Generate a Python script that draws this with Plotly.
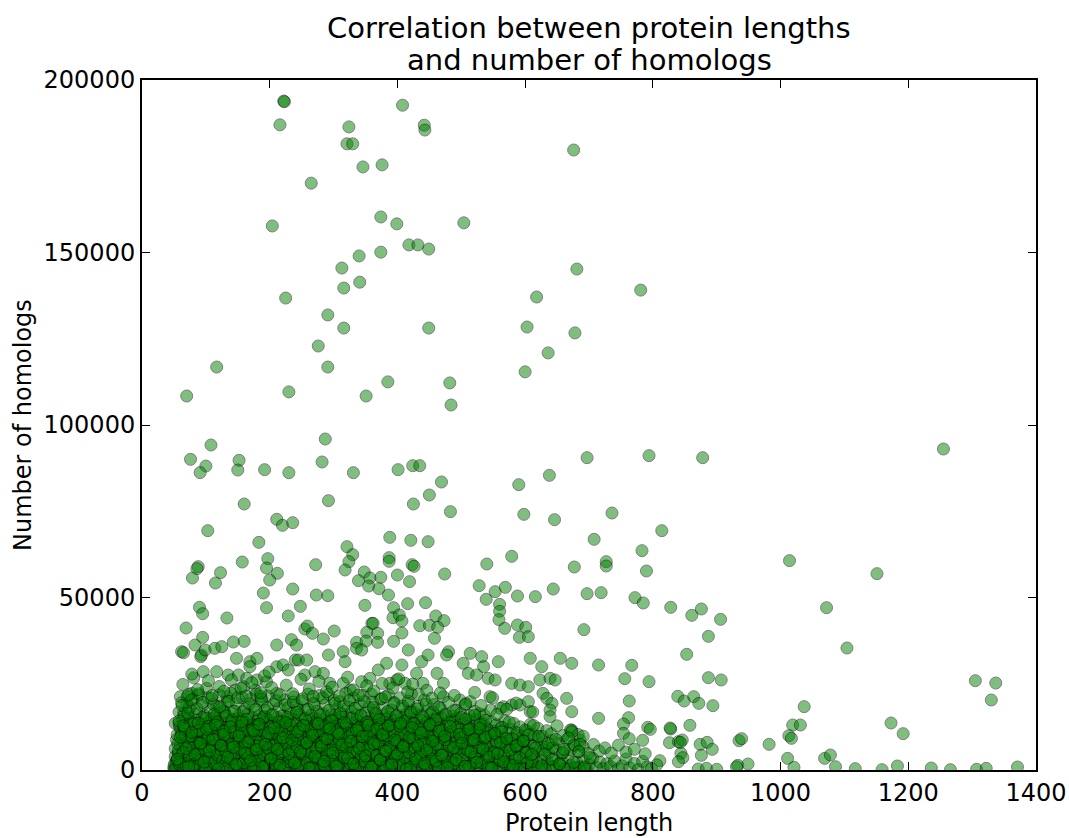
import plotly.graph_objects as go

# ---------------- data ----------------
# high outliers (homologs > 100000)
upper_len = [222, 223, 216, 324, 321, 330, 408, 442, 443, 676,
             346, 376, 265, 204, 374, 399, 504, 418, 432, 449,
             374, 340, 313, 341, 316, 225, 618, 681, 291, 316,
             449, 603, 678, 636, 276, 291, 117, 600, 385, 482,
             484, 70, 230, 351, 781]
upper_hom = [193900, 193700, 187000, 186400, 181500, 181500, 192700, 186900, 185500, 179700,
             174800, 175400, 170100, 157700, 160300, 158300, 158600, 152200, 152200, 151000,
             150100, 149000, 145500, 141400, 139700, 136800, 137100, 145200, 131900, 128100,
             128100, 128400, 126700, 120900, 122900, 116800, 116800, 115400, 112500, 112200,
             105800, 108400, 109600, 108400, 139100]

# mid range points (roughly 37000 - 100000)
mid_len = [76, 108, 100, 91, 152, 150, 192, 230, 287, 282,
           331, 401, 424, 435, 469, 450, 425, 483, 292, 160,
           103, 211, 220, 236, 183, 157, 88, 86, 79, 123,
           115, 197, 195, 212, 200, 190, 195, 236, 272, 321,
           330, 324, 318, 388, 387, 387, 421, 448, 423, 426,
           474, 348, 339, 357, 374, 355, 371, 400, 419, 386,
           416, 444, 273, 291, 248, 229, 349, 394, 393, 403,
           407, 360, 362, 528, 540, 579, 553, 569, 539, 588,
           616, 644, 590, 638, 598, 646, 677, 697, 697, 692,
           560, 560, 559, 568, 588, 601, 591, 605, 90, 95,
           69, 133, 95, 255, 259, 267, 284, 301, 352, 369,
           407, 435, 450, 460, 473, 463, 458, 234, 160, 143,
           336, 369, 351, 394]
mid_hom = [90050, 94200, 88100, 86200, 89760, 86950, 87050, 86180, 95940, 89280,
           86180, 87050, 88210, 88210, 83480, 79710, 77100, 74880, 78070, 77100,
           69370, 72660, 70920, 71690, 65990, 60290, 58940, 58360, 55650, 57200,
           54200, 61260, 58550, 57000, 55070, 51300, 47050, 52460, 59520, 64740,
           62420, 60390, 57970, 67440, 61550, 60490, 66570, 66180, 59520, 59030,
           56810, 57390, 54880, 55650, 55850, 53330, 52560, 56520, 54590, 50720,
           48210, 48500, 50720, 50530, 47440, 44640, 47730, 47050, 44150, 44930,
           43190, 42510, 42510, 53430, 59710, 61930, 51690, 52950, 49470, 50430,
           50240, 52460, 82710, 85410, 74100, 72560, 58840, 90530, 51110, 40680,
           48020, 45990, 43580, 41060, 42030, 41350, 38450, 38650, 47150, 45310,
           41160, 44060, 38450, 40870, 41740, 39610, 37970, 40290, 39900, 39610,
           39710, 41830, 41930, 44640, 43290, 41350, 38160, 37780, 37290, 37100,
           37000, 37000, 37390, 37290]

# long proteins (right part of the chart)
long_len = [794, 878, 1255, 736, 814, 708, 783, 727, 727, 790,
            1014, 1151, 719, 772, 785, 828, 861, 876, 906, 1072,
            887, 853, 1104, 767, 756, 794, 887, 907, 763, 839,
            849, 864, 872, 894, 1305, 1337, 1330, 1037, 762, 754,
            754, 763, 792, 796, 784, 828, 858, 826, 840, 846,
            874, 885, 893, 844, 847, 840, 876, 811, 935, 939,
            933, 949, 982, 1019, 1031, 1013, 1017, 1011, 1021, 1069,
            1078, 1086, 1117, 1159, 1173, 1192, 1183, 1236, 1266, 1307,
            1322, 1371, 871, 884, 900, 931, 827, 843]
long_hom = [91110, 90530, 93040, 74490, 69370, 66860, 63570, 60390, 59130, 57680,
            60680, 56910, 51400, 49950, 48410, 47150, 44830, 46670, 43670, 47050,
            38740, 33530, 35360, 30340, 26470, 25600, 26760, 26090, 20000, 21350,
            20000, 21250, 19320, 18650, 25890, 25210, 20290, 18360, 15170, 13330,
            10630, 9080, 12370, 11790, 8600, 11880, 12950, 7920, 8210, 8690,
            7440, 8020, 5990, 4830, 3580, 2410, 4250, 2700, 8500, 9080,
            1350, 1740, 7440, 13040, 13040, 9950, 9180, 3380, 770, 3380,
            4350, 960, 390, 100, 13620, 10530, 1160, 580, 100, 190,
            480, 870, 300, 500, 200, 900, 12170, 8000]

# upper fringe of the dense cloud (about 13000 - 37000)
fringe_len = [62, 65, 83, 93, 92, 99, 114, 125, 96, 117,
              135, 148, 169, 180, 169, 151, 164, 180, 211, 211,
              221, 229, 240, 101, 78, 88, 60, 70, 117, 133,
              146, 159, 177, 195, 52, 65, 242, 245, 258, 292,
              315, 318, 336, 344, 383, 407, 417, 438, 448, 480,
              255, 271, 284, 294, 315, 326, 344, 357, 370, 388,
              399, 412, 430, 440, 462, 472, 477, 514, 532, 503,
              535, 558, 608, 626, 655, 673, 511, 524, 542, 553,
              579, 592, 605, 623, 639, 647, 472, 545, 566, 579,
              592, 605, 628, 634, 642, 665, 673, 639, 639, 608,
              561, 514, 498, 715, 715, 673, 686]
fringe_hom = [34300, 34000, 36230, 33330, 32850, 34780, 35270, 35750, 28500, 28500,
              27540, 32370, 31400, 32370, 29950, 27540, 26570, 26090, 36230, 29950,
              30440, 28990, 31880, 23670, 22230, 21740, 21250, 19330, 18350, 21250,
              23190, 24150, 23190, 25600, 13530, 16420, 36230, 31880, 31880, 33330,
              34300, 31400, 35270, 34780, 30930, 30440, 34780, 31400, 33330, 34300,
              27540, 28500, 28020, 25130, 25130, 23190, 25600, 26570, 28990, 25130,
              26090, 25130, 28020, 25130, 28020, 25130, 33330, 33810, 32850, 30920,
              29950, 31400, 32370, 29950, 32370, 30920, 28020, 27540, 26570, 26090,
              25120, 24640, 24150, 26090, 26570, 26090, 21250, 21250, 18360, 18840,
              18840, 19810, 22220, 20770, 19320, 20770, 16910, 17390, 15460, 16910,
              17870, 19810, 20290, 30430, 14970, 11590, 8700]

# dense cloud, lowest band (0 - 4500)
low_len = [50, 51, 52, 53, 54, 55, 56, 58, 60, 61,
           63, 66, 68, 70, 71, 74, 76, 79, 81, 83,
           85, 88, 90, 93, 95, 97, 99, 102, 104, 107,
           109, 111, 114, 116, 119, 121, 124, 126, 128, 131,
           133, 136, 138, 141, 143, 146, 148, 150, 153, 155,
           158, 160, 163, 165, 168, 170, 173, 175, 178, 180,
           183, 185, 188, 190, 193, 196, 198, 201, 203, 206,
           208, 211, 213, 216, 219, 221, 224, 226, 229, 232,
           234, 237, 239, 242, 245, 247, 250, 252, 255, 258,
           260, 263, 265, 268, 271, 273, 276, 279, 281, 284,
           287, 289, 292, 295, 297, 300, 303, 305, 308, 311,
           313, 316, 319, 321, 324, 327, 330, 332, 335, 338,
           341, 343, 346, 349, 352, 355, 357, 360, 363, 366,
           369, 372, 374, 377, 380, 383, 386, 389, 392, 395,
           398, 401, 404, 407, 410, 413, 416, 419, 422, 425,
           428, 431, 434, 437, 440, 443, 446, 449, 452, 456,
           459, 462, 465, 468, 471, 475, 478, 481, 485, 488,
           491, 495, 498, 501, 505, 508, 512, 515, 519, 522,
           526, 529, 533, 536, 540, 544, 547, 551, 555, 558,
           562, 566, 570, 573, 577, 581, 585, 589, 593, 597,
           601, 605, 609, 613, 617, 622, 626, 630, 635, 639,
           644, 648, 653, 657, 662, 667, 671, 676, 681, 686,
           691, 696, 701, 706, 712, 717, 722, 728, 734, 740,
           746, 752, 758, 764, 771, 777, 784, 791, 798, 806,
           50, 52, 59, 65, 72, 78, 84, 91, 98, 105,
           112, 118, 125, 132, 139, 145, 152, 159, 166, 172,
           179, 186, 194, 200, 207, 214, 222, 229, 236, 244,
           251, 257, 264, 272, 279, 286, 294, 301, 309, 317,
           325, 333, 340, 348, 356, 364, 371, 379, 387, 396,
           405, 413, 421, 430, 439, 447, 456, 465, 474, 483,
           493, 502, 511, 520, 530, 540, 549, 559, 569, 579,
           589, 600, 611, 621, 632, 643, 655, 667, 679, 692]
low_hom = [300, 1800, 3900, 800, 2600, 100, 3300, 1400, 500, 4200,
           2200, 700, 3600, 1500, 200, 2900, 1100, 4100, 600, 2400,
           3500, 250, 1700, 2800, 900, 4300, 150, 2000, 3200, 1200,
           400, 3800, 2500, 700, 1600, 3000, 100, 4000, 1300, 2300,
           3400, 600, 1900, 2700, 200, 3900, 1000, 2600, 500, 3600,
           1400, 2900, 300, 4200, 1800, 800, 3200, 2100, 150, 3700,
           1100, 2500, 600, 4000, 1700, 3000, 250, 2300, 3500, 900,
           1900, 4100, 400, 2800, 1300, 3400, 700, 2000, 3900, 100,
           2600, 1200, 3700, 500, 2200, 4200, 1500, 300, 3100, 1900,
           800, 3500, 2400, 150, 4000, 1600, 2900, 600, 3300, 2100,
           1000, 3800, 400, 2700, 1800, 4300, 1200, 200, 3000, 2300,
           3600, 700, 1500, 4100, 2500, 100, 3200, 1900, 900, 2800,
           400, 3900, 1400, 2200, 3400, 600, 2700, 4200, 1100, 200,
           3000, 1700, 2400, 500, 3700, 1300, 4000, 800, 2100, 3300,
           150, 2600, 1000, 3800, 1900, 300, 3100, 2300, 4300, 700,
           1600, 3400, 2000, 400, 2900, 1200, 3900, 100, 2500, 3600,
           900, 2200, 4100, 1400, 300, 3200, 1800, 2700, 600, 3800,
           1300, 2400, 200, 3500, 1000, 2900, 4200, 500, 2000, 3100,
           800, 3700, 1600, 2500, 100, 3300, 1200, 4000, 2200, 400,
           2800, 1500, 3600, 700, 2300, 300, 3900, 1100, 2000, 3200,
           500, 2600, 1400, 3500, 200, 1900, 3000, 800, 2400, 1200,
           3300, 600, 1700, 2700, 300, 3800, 1300, 500, 2200, 900,
           2900, 200, 1500, 3400, 700, 2300, 400, 1800, 1000, 2600,
           300, 1200, 3200, 600, 1900, 100, 2500, 900, 400, 1500,
           1000, 200, 1600, 400, 2100, 800, 100, 1300, 600, 2400,
           300, 1700, 900, 100, 2200, 1200, 600, 1900, 200, 1400,
           700, 2300, 100, 1500, 500, 1800, 200, 1100, 2500, 400,
           1600, 100, 900, 2000, 300, 1300, 700, 2400, 500, 1100,
           200, 1800, 600, 1200, 100, 2100, 900, 300, 1700, 500,
           1400, 100, 2200, 700, 1100, 300, 1900, 600, 1300, 200,
           1600, 500, 900, 2000, 200, 1200, 700, 100, 1800, 400,
           1100, 300, 1500, 600, 100, 900, 1300, 200, 700, 400]

# dense cloud, second band (4500 - 9500)
band2_len = [52, 54, 57, 60, 63, 66, 69, 72, 75, 78,
             81, 84, 87, 90, 93, 96, 99, 102, 105, 108,
             111, 114, 117, 120, 123, 126, 129, 132, 135, 138,
             141, 144, 147, 150, 153, 156, 159, 162, 165, 168,
             171, 174, 177, 180, 183, 186, 189, 192, 195, 198,
             201, 204, 207, 210, 213, 216, 219, 222, 225, 228,
             231, 234, 237, 240, 243, 246, 249, 252, 255, 258,
             261, 264, 267, 270, 273, 276, 279, 282, 285, 288,
             291, 294, 297, 300, 303, 306, 309, 312, 315, 318,
             321, 324, 327, 330, 333, 336, 339, 342, 345, 348,
             351, 354, 357, 360, 363, 366, 369, 372, 375, 378,
             381, 384, 387, 390, 393, 396, 399, 402, 405, 408,
             411, 414, 417, 420, 423, 427, 430, 433, 436, 440,
             443, 446, 450, 453, 456, 460, 463, 467, 470, 474,
             477, 481, 484, 488, 492, 495, 499, 503, 506, 510,
             514, 518, 522, 526, 530, 534, 538, 542, 546, 550,
             554, 558, 563, 567, 571, 576, 580, 585, 589, 594,
             598, 603, 608, 612, 617, 622, 627, 632, 637, 642,
             648, 653, 659, 665, 671, 677, 684, 691, 699, 707,
             716, 725, 735, 746, 758, 771, 788, 57, 66, 75,
             84, 93, 102, 111, 120, 129, 138, 147, 156, 165,
             174, 183, 192, 201, 210, 219, 228, 237, 246, 255,
             264, 273, 282, 291, 300, 309, 318, 327, 336, 345,
             354, 363, 372, 381, 390, 399, 408, 417, 426, 436,
             446, 456, 466, 476, 486, 496, 507, 518, 529, 540,
             551, 563, 575, 588, 601, 614, 628, 643, 659, 676]
band2_hom = [6200, 8800, 4800, 7400, 9300, 5500, 8100, 6700, 4600, 9000,
             7100, 5200, 8600, 6000, 9400, 7800, 4900, 6500, 8300, 5700,
             9100, 6900, 4700, 8000, 5900, 7500, 9200, 5100, 6600, 8700,
             4800, 7300, 9000, 6100, 8400, 5400, 7900, 4600, 6800, 9300,
             5800, 8200, 7000, 4900, 9100, 6400, 5300, 8700, 7600, 6000,
             9400, 5000, 7200, 8500, 6300, 4700, 8000, 6900, 5500, 9000,
             7400, 5900, 8800, 4800, 6600, 9200, 5600, 7800, 6100, 8300,
             5000, 7100, 9300, 6400, 8600, 5300, 7700, 4600, 6900, 9000,
             8100, 5700, 7300, 9100, 4900, 6700, 8400, 6000, 5200, 7900,
             9400, 6200, 4800, 8800, 7000, 5500, 9000, 6500, 8200, 4700,
             7600, 9200, 5800, 6900, 8500, 5100, 7300, 9400, 6100, 8000,
             5400, 7800, 6600, 9100, 4900, 8300, 7100, 5700, 9300, 6300,
             8700, 5000, 7400, 6000, 9000, 5600, 8100, 6800, 4800, 7700,
             9200, 6400, 5200, 8400, 7000, 9400, 5800, 7600, 6200, 8800,
             4900, 7300, 8900, 6100, 5400, 8000, 6700, 9300, 5000, 7500,
             8500, 6300, 4800, 7900, 9100, 5700, 7000, 8600, 6000, 5200,
             7700, 9300, 6500, 5100, 8300, 7200, 4900, 6800, 9000, 5900,
             8100, 6200, 7400, 4800, 9200, 5600, 7900, 6600, 5000, 8500,
             6000, 7600, 4900, 8800, 5800, 7100, 5300, 6700, 4800, 7400,
             5500, 6400, 4900, 7200, 5200, 6000, 4700, 5600, 7900, 4900,
             8400, 6300, 5200, 7600, 9000, 5500, 7000, 8900, 6600, 5100,
             7700, 6000, 8600, 4800, 6400, 9200, 7400, 5300, 7900, 6200,
             8500, 4900, 7100, 5800, 9100, 6700, 4800, 7400, 5600, 8800,
             6300, 5000, 7700, 9200, 6000, 8000, 5400, 6900, 8300, 5200,
             7300, 4900, 6500, 8700, 5800, 7600, 6200, 8000, 5600, 6900,
             4800, 7500, 8800, 6100, 5300, 7100, 5900, 6500, 5100, 7300]

# dense cloud, third band (9500 - 15500)
band3_len = [55, 58, 61, 64, 67, 70, 73, 76, 79, 82,
             85, 88, 91, 94, 97, 100, 103, 106, 109, 112,
             115, 118, 121, 124, 127, 130, 133, 136, 139, 142,
             145, 148, 151, 154, 157, 160, 163, 166, 169, 172,
             175, 178, 181, 184, 187, 190, 193, 196, 199, 202,
             205, 208, 211, 214, 217, 220, 223, 226, 229, 232,
             235, 238, 241, 244, 247, 250, 253, 256, 259, 262,
             265, 268, 271, 274, 277, 280, 283, 286, 289, 292,
             295, 298, 301, 304, 307, 310, 313, 316, 319, 322,
             325, 328, 331, 334, 337, 340, 343, 346, 349, 352,
             355, 358, 361, 364, 367, 370, 373, 376, 379, 382,
             385, 388, 391, 394, 397, 400, 403, 406, 409, 412,
             415, 418, 421, 424, 427, 430, 433, 436, 439, 442,
             446, 449, 452, 456, 459, 462, 466, 469, 472, 476,
             479, 483, 486, 490, 493, 497, 500, 504, 508, 511,
             515, 519, 523, 527, 531, 535, 539, 543, 547, 551,
             555, 560, 564, 568, 573, 577, 582, 587, 592, 597,
             602, 608, 614, 620, 627, 634, 641, 650, 660, 671,
             683, 691, 673, 686, 59, 68, 77, 86, 95, 104,
             113, 122, 131, 140, 149, 158, 167, 176, 185, 194,
             203, 212, 221, 230, 239, 248, 257, 266, 275, 284,
             293, 302, 311, 320, 329, 338, 347, 356, 365, 374,
             383, 392, 401, 410, 419, 428, 437, 446, 456, 466,
             476, 486, 497, 508, 519, 530, 541, 552, 563, 575,
             587, 600, 613]
band3_hom = [10200, 13500, 11600, 14800, 9800, 12700, 15200, 10800, 13900, 11900,
             14500, 10100, 12300, 15300, 11200, 13600, 9700, 12900, 14900, 10600,
             12100, 14300, 10400, 13100, 15400, 11500, 9900, 13800, 12400, 14700,
             10900, 13300, 15000, 11800, 10000, 14100, 12600, 9600, 13700, 15400,
             11400, 12800, 14600, 10300, 13200, 15100, 9900, 12000, 14400, 10700,
             13600, 11100, 15300, 12500, 9700, 14000, 11700, 13000, 15000, 10500,
             12200, 14800, 10000, 13400, 11500, 15400, 12900, 9800, 14200, 11000,
             13800, 15100, 10600, 12300, 14500, 11300, 9600, 13200, 15300, 12000,
             10400, 14000, 12700, 15000, 11100, 13500, 9900, 14700, 12400, 10800,
             15200, 11900, 13300, 10200, 14400, 12100, 15400, 9700, 13000, 11600,
             14100, 10500, 12800, 15000, 11300, 13700, 9900, 14600, 12300, 10900,
             13500, 15300, 11000, 12600, 14300, 10300, 13100, 15100, 11700, 9800,
             12900, 14800, 10700, 13400, 11500, 15000, 12200, 9700, 14200, 11100,
             13800, 10200, 12500, 14700, 11300, 9900, 13300, 15200, 10800, 12600,
             14100, 11000, 9800, 13000, 15000, 11800, 10400, 13700, 12200, 14500,
             10300, 12900, 14600, 11400, 9900, 13400, 12000, 10700, 14000, 11200,
             13100, 9700, 12200, 14300, 10900, 11800, 13500, 10100, 12500, 9900,
             11300, 13200, 10200, 12100, 9800, 11400, 10500, 12800, 10000, 11600,
             10300, 9800, 11100, 7500, 12500, 10200, 14100, 11400, 13200, 10000,
             15000, 12700, 10900, 13600, 11200, 14400, 10600, 13000, 11700, 15200,
             10300, 12400, 14200, 11000, 13900, 10500, 12600, 11100, 14800, 10100,
             13400, 11800, 15300, 12000, 10700, 13100, 11500, 14300, 10200, 12800,
             14900, 11300, 13500, 10400, 14000, 11700, 12900, 10600, 13600, 12100,
             10100, 14400, 11500, 12800, 10900, 13700, 11900, 10400, 12400, 13900,
             10800, 11600, 12900]

# dense cloud, fourth band (15500 - 22500)
band4_len = [58, 62, 66, 71, 75, 80, 85, 89, 94, 98,
             103, 107, 112, 116, 121, 125, 130, 134, 139, 143,
             148, 152, 157, 161, 166, 170, 175, 179, 184, 188,
             193, 197, 202, 206, 211, 215, 220, 224, 229, 233,
             238, 242, 247, 251, 256, 260, 265, 269, 274, 278,
             283, 287, 292, 296, 301, 305, 310, 314, 319, 323,
             328, 332, 337, 341, 346, 350, 355, 359, 364, 368,
             373, 377, 382, 386, 391, 395, 400, 404, 409, 413,
             418, 422, 427, 432, 437, 442, 447, 452, 457, 463,
             468, 474, 480, 486, 492, 499, 506, 513, 521, 529,
             536, 546, 556, 74, 128, 186, 244, 302, 361, 420]
band4_hom = [16800, 19500, 15900, 21300, 17700, 20400, 16300, 22100, 18600, 15800,
             20900, 17200, 19000, 15700, 21800, 18100, 16500, 20000, 22300, 17000,
             19300, 15900, 21000, 17600, 16200, 20600, 18400, 22000, 15800, 19700,
             17300, 21500, 16000, 19100, 22200, 17900, 15700, 20300, 18000, 16600,
             21200, 18700, 16100, 20000, 17400, 22000, 15900, 19400, 17000, 21600,
             16400, 18900, 21900, 15800, 20200, 17600, 19800, 16200, 22200, 18300,
             17000, 20800, 15900, 19000, 21600, 16600, 18200, 22000, 17300, 15700,
             20500, 18000, 16300, 21800, 17400, 19600, 15900, 20900, 17800, 16100,
             19200, 22100, 16700, 18500, 15800, 20300, 17100, 16200, 19000, 15600,
             17800, 16000, 19600, 15700, 17300, 16400, 18900, 15800, 17000, 16300,
             15900, 17400, 16100, 18200, 16900, 21300, 17600, 15900, 19700, 17100]

# dense cloud, extra layer over the lower part (0 - 12000)
band5_len = [56, 59, 62, 64, 67, 69, 72, 74, 77, 80,
             82, 85, 87, 90, 92, 95, 98, 100, 103, 105,
             108, 110, 113, 115, 118, 121, 123, 126, 128, 131,
             134, 136, 139, 141, 144, 147, 149, 152, 154, 157,
             159, 162, 165, 167, 170, 172, 175, 177, 180, 183,
             185, 188, 191, 193, 196, 198, 201, 204, 206, 209,
             211, 214, 217, 219, 222, 225, 227, 230, 233, 235,
             238, 241, 243, 246, 249, 251, 254, 257, 259, 262,
             265, 267, 270, 273, 276, 278, 281, 284, 287, 289,
             292, 295, 298, 300, 303, 306, 309, 312, 314, 317,
             320, 323, 326, 329, 331, 334, 337, 340, 343, 346,
             349, 352, 355, 358, 361, 364, 367, 370, 373, 376,
             379, 382, 385, 388, 391, 394, 397, 400, 403, 406,
             409, 412, 415, 418, 421, 425, 428, 431, 434, 437,
             441, 444, 447, 451, 454, 457, 461, 464, 467, 471,
             474, 478, 481, 485, 488, 492, 495, 499, 502, 506,
             510, 513, 517, 521, 524, 528, 532, 536, 540, 543,
             547, 551, 555, 559, 563, 567, 571, 576, 580, 584,
             588, 593, 597, 602, 606, 611, 616, 621, 626, 631,
             636, 642, 648, 654, 661, 668, 676, 684, 693, 702]
band5_hom = [7600, 2300, 10400, 5100, 11700, 800, 8300, 3900, 9800, 6400,
             1500, 11200, 4700, 7900, 2900, 10800, 5800, 300, 9300, 3500,
             11900, 6800, 1900, 8800, 4300, 10100, 7200, 2600, 11400, 5400,
             900, 9600, 3200, 7400, 11000, 4900, 1300, 8600, 6100, 10600,
             2100, 7800, 11600, 3700, 9200, 5600, 600, 10300, 6900, 2800,
             8100, 11300, 4500, 1100, 9900, 6300, 3000, 11800, 7000, 1700,
             10500, 4100, 8500, 5300, 400, 9700, 7500, 2400, 11100, 5900,
             3400, 10900, 6600, 1400, 8900, 4600, 11500, 7700, 2200, 9400,
             5000, 700, 10700, 6200, 3300, 11200, 8000, 1600, 9100, 4400,
             11700, 5700, 2700, 10200, 7300, 1000, 8700, 4800, 11000, 3600,
             6500, 9500, 1800, 10800, 5200, 200, 8200, 11400, 3900, 7100,
             2500, 10000, 6000, 9000, 1200, 11600, 4200, 7600, 3100, 10400,
             5500, 800, 9800, 6700, 2000, 11300, 4000, 8400, 1500, 10600,
             7000, 3500, 11900, 5000, 900, 9200, 6300, 2600, 10100, 4500,
             8000, 1300, 11000, 5800, 3200, 9600, 7400, 600, 10500, 4300,
             8800, 2300, 6900, 11200, 1900, 7900, 5100, 9400, 3000, 10300,
             5600, 1100, 8500, 3800, 10900, 6500, 2100, 9100, 4700, 700,
             10000, 5300, 8200, 2800, 11100, 4100, 6800, 1600, 9000, 3400,
             7200, 400, 8300, 5000, 10200, 2500, 6400, 9700, 1200, 4600,
             7700, 3100, 8900, 1800, 6000, 9300, 2200, 5400, 900, 3600]

# dense cloud, extra layer over the upper part (11000 - 21000)
band6_len = [58, 63, 67, 72, 77, 81, 86, 90, 95, 100,
             104, 109, 113, 118, 122, 127, 132, 136, 141, 145,
             150, 155, 159, 164, 168, 173, 178, 182, 187, 191,
             196, 201, 205, 210, 214, 219, 224, 228, 233, 237,
             242, 247, 251, 256, 260, 265, 270, 274, 279, 283,
             288, 293, 297, 302, 306, 311, 316, 320, 325, 329,
             334, 339, 343, 348, 352, 357, 362, 366, 371, 375,
             380, 385, 389, 394, 398, 403, 408, 412, 417, 421,
             426, 431, 435, 440, 445, 450, 455, 460, 465, 470,
             476, 482, 488, 494, 500, 507, 514, 521, 529, 538]
band6_hom = [14200, 18700, 12100, 16500, 20300, 13400, 17800, 11500, 19600, 15000,
             12600, 20800, 16200, 13900, 18300, 11200, 15700, 19900, 14400, 17100,
             21000, 12800, 16900, 14700, 19200, 11800, 17500, 13200, 20500, 15500,
             18000, 12300, 16000, 20100, 14000, 11400, 18900, 15300, 13000, 19700,
             16700, 12000, 20600, 14900, 17600, 11600, 19000, 13600, 15900, 20900,
             12500, 17300, 14300, 19400, 11100, 16400, 18600, 13300, 20200, 15100,
             17900, 12200, 15800, 19800, 13800, 11300, 18100, 16300, 14600, 20700,
             11900, 17000, 13100, 19300, 15600, 12700, 18500, 14100, 20000, 16600,
             13500, 17700, 11700, 15400, 19100, 12900, 16800, 14500, 18200, 11500,
             16100, 13700, 17200, 12400, 15200, 14800, 12000, 15900, 13200, 14400]

# ragged top edge of the dense cloud (17000 - 28000)
band7_len = [64, 73, 81, 87, 104, 110, 121, 128, 140, 155,
             163, 172, 186, 192, 203, 216, 226, 236, 249, 262,
             268, 277, 289, 298, 309, 322, 331, 339, 352, 363,
             376, 381, 393, 402, 416, 424, 433, 446, 454, 467,
             489, 507, 521, 531, 549, 571, 586, 612, 78, 199]
band7_hom = [24800, 21900, 26700, 23300, 25900, 21600, 24200, 22800, 26100, 23700,
             21400, 25300, 22400, 27300, 23900, 21800, 24600, 22100, 26300, 23500,
             21300, 25700, 22700, 24000, 21500, 26900, 23200, 21700, 24400, 22900,
             25100, 21200, 23800, 26400, 22600, 24900, 21900, 23100, 20800, 22300,
             21600, 19200, 22500, 18700, 20900, 17600, 19400, 16800, 27800, 28400]

# extra core layer (0 - 14000)
band8_len = [55, 60, 65, 69, 73, 78, 83, 88, 92, 97,
             101, 106, 111, 115, 120, 124, 129, 134, 138, 143,
             147, 152, 156, 161, 166, 170, 175, 179, 184, 189,
             193, 198, 202, 207, 212, 216, 221, 225, 230, 235,
             239, 244, 248, 253, 258, 262, 267, 271, 276, 281,
             285, 290, 294, 299, 304, 308, 313, 317, 322, 327,
             331, 336, 340, 345, 350, 354, 359, 363, 368, 373,
             377, 382, 386, 391, 396, 400, 405, 409, 414, 419,
             423, 428, 432, 437, 442, 446, 451, 455, 460, 465,
             469, 474, 478, 483, 488, 492, 497, 501, 506, 511,
             515, 520, 524, 529, 534, 538, 543, 547, 552, 557,
             561, 566, 571, 576, 581, 586, 591, 597, 603, 610]
band8_hom = [3100, 9500, 12800, 6200, 1000, 10900, 4400, 13600, 7700, 2300,
             11800, 5600, 8900, 13100, 400, 7100, 10300, 3700, 12500, 6600,
             1700, 9900, 13900, 4900, 8100, 2700, 11400, 5900, 13300, 900,
             7400, 10700, 3400, 12200, 6000, 1400, 9300, 13700, 4700, 8600,
             2000, 11100, 5300, 12900, 7900, 500, 10000, 3900, 13400, 6900,
             2500, 9000, 12000, 5000, 1200, 10500, 7300, 13800, 3500, 8300,
             1800, 11600, 6300, 9700, 4100, 13000, 800, 7600, 11900, 2900,
             10200, 5500, 12700, 1500, 8700, 4600, 13500, 6800, 300, 9400,
             12300, 3300, 7200, 10800, 1900, 5800, 13200, 8400, 2600, 11300,
             4300, 9800, 700, 12600, 6500, 3000, 10400, 7800, 1100, 11700,
             5200, 8800, 2200, 12100, 6100, 9600, 3800, 600, 10600, 4800,
             8000, 2400, 9100, 5700, 1300, 7000, 3600, 8500, 2100, 4500]

# ---------------- figure ----------------
lengths = upper_len + mid_len + long_len + fringe_len
homologs = upper_hom + mid_hom + long_hom + fringe_hom
for a, b in [(low_len, low_hom), (band2_len, band2_hom), (band3_len, band3_hom),
             (band4_len, band4_hom), (band5_len, band5_hom), (band6_len, band6_hom),
             (band7_len, band7_hom), (band8_len, band8_hom)]:
    n = min(len(a), len(b))
    lengths += a[:n]
    homologs += b[:n]

FONT = "DejaVu Sans"
L0, T0, W0, H0 = 142, 80, 894, 690   # plot area in pixels


def px_x(px):
    return (px - L0) / W0


def px_y(py):
    return (T0 + H0 - py) / H0


fig = go.Figure()
fig.add_trace(go.Scatter(
    x=lengths, y=homologs, mode="markers",
    marker=dict(size=12, color="green", opacity=0.5,
                line=dict(color="black", width=1)),
    showlegend=False, hoverinfo="skip",
))

axis_common = dict(
    showline=True, linecolor="black", linewidth=2, mirror="allticks",
    ticks="inside", ticklen=8, tickwidth=1, tickcolor="black",
    showgrid=False, zeroline=False, automargin=False,
    tickfont=dict(family=FONT, size=24, color="black"),
    tickformat="d",
)

fig.update_layout(
    width=1069, height=838,
    margin=dict(l=L0, r=1069 - L0 - W0, t=T0, b=838 - T0 - H0, autoexpand=False),
    paper_bgcolor="white", plot_bgcolor="white",
    font=dict(family=FONT, color="black"),
    xaxis=dict(range=[0, 1400], tick0=0, dtick=200, **axis_common),
    yaxis=dict(range=[0, 200000], tick0=0, dtick=50000, **axis_common),
    annotations=[
        dict(text="Correlation between protein lengths", xref="paper", yref="paper",
             x=0.5, y=px_y(28), xanchor="center", yanchor="middle", showarrow=False,
             font=dict(family=FONT, size=29, color="black")),
        dict(text="and number of homologs", xref="paper", yref="paper",
             x=0.5, y=px_y(60), xanchor="center", yanchor="middle", showarrow=False,
             font=dict(family=FONT, size=29, color="black")),
        dict(text="Protein length", xref="paper", yref="paper",
             x=0.5, y=px_y(823), xanchor="center", yanchor="middle", showarrow=False,
             font=dict(family=FONT, size=24, color="black")),
        dict(text="Number of homologs", xref="paper", yref="paper",
             x=px_x(23), y=0.5, xanchor="center", yanchor="middle", showarrow=False,
             textangle=-90, font=dict(family=FONT, size=24, color="black")),
    ],
)

fig.write_html("out.html")
